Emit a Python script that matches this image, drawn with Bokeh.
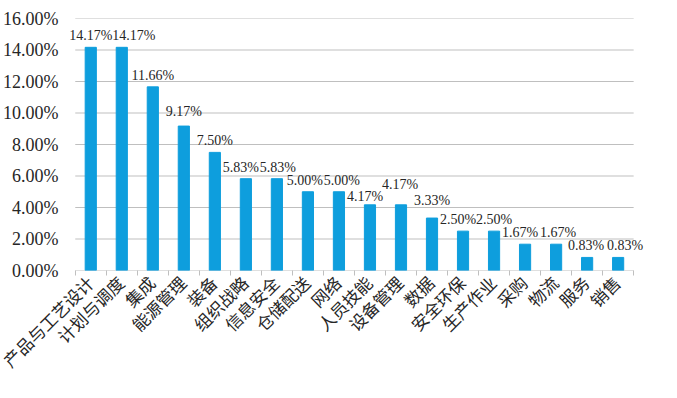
from bokeh.plotting import figure
from bokeh.models import ColumnDataSource, FixedTicker, Range1d, PrintfTickFormatter, LabelSet
from bokeh.embed import file_html
from bokeh.resources import INLINE
import math

categories = ["产品与工艺设计", "计划与调度", "集成", "能源管理", "装备", "组织战略", "信息安全",
              "仓储配送", "网络", "人员技能", "设备管理", "数据", "安全环保", "生产作业",
              "采购", "物流", "服务", "销售"]
values = [14.17, 14.17, 11.66, 9.17, 7.50, 5.83, 5.83, 5.00, 5.00, 4.17, 4.17, 3.33,
          2.50, 2.50, 1.67, 1.67, 0.83, 0.83]
y_ticks = [0, 2, 4, 6, 8, 10, 12, 14, 16]

# small label nudges (pixels) so that neighbouring labels don't collide, as in the original
label_dx = [0, 12, 0, 0, 0, -5, 1, -3, 3, -5, -1, 0, -5, 0, -5, 2, -1, 7]
label_dy = [0, 0, 0, -3, 0, 0, 0, 0, 0, 3, -9, -6, 0, 0, 0, 0, 0, 0]

n = len(categories)
xs = list(range(n))
labels = ["%.2f%%" % v for v in values]
src = ColumnDataSource(dict(x=xs, top=values, label=labels, dx=label_dx,
                            dy=[4 - d for d in label_dy]))

# x range padded a little beyond the category span so the end labels are not clipped
p = figure(width=668, height=388, output_backend="svg", toolbar_location=None,
           x_range=Range1d(-0.75, n - 0.15), y_range=Range1d(0, 16),
           min_border_left=66, min_border_right=24, min_border_top=18, min_border_bottom=118)
p.outline_line_color = None
p.background_fill_color = "white"
p.xgrid.grid_line_color = None
p.ygrid.grid_line_color = None

# horizontal gridlines spanning only the category area
grid_src = ColumnDataSource(dict(x0=[-0.5] * len(y_ticks), x1=[n - 0.5] * len(y_ticks),
                                 y=y_ticks))
p.segment(x0="x0", y0="y", x1="x1", y1="y", source=grid_src, line_color="#BFBFBF",
          line_width=1)

p.vbar(x="x", top="top", width=0.36, source=src, color="#0E9EDD")

serif = "'Times New Roman', serif, 'Noto Sans CJK SC'"

p.add_layout(LabelSet(x="x", y="top", text="label", source=src, text_align="center",
                      text_baseline="bottom", x_offset="dx", y_offset="dy",
                      text_font=serif, text_font_size="14px", text_color="#262626"))

# y axis
p.yaxis.ticker = FixedTicker(ticks=y_ticks)
p.yaxis.formatter = PrintfTickFormatter(format="%.2f%%")
p.yaxis.axis_line_color = None
p.yaxis.major_tick_line_color = None
p.yaxis.minor_tick_line_color = None
p.yaxis.major_label_text_font = serif
p.yaxis.major_label_text_font_size = "18px"
p.yaxis.major_label_text_color = "#262626"
p.yaxis.major_label_standoff = 3

# x axis
boundaries = [i - 0.5 for i in range(n + 1)]
p.xaxis.ticker = FixedTicker(ticks=xs, minor_ticks=boundaries)
p.xaxis.major_label_overrides = {i: c for i, c in enumerate(categories)}
p.xaxis.major_label_orientation = math.pi / 4
p.xaxis.major_label_text_font = serif
p.xaxis.major_label_text_font_size = "17px"
p.xaxis.major_label_text_color = "#262626"
p.xaxis.major_tick_line_color = None
p.xaxis.minor_tick_in = 0
p.xaxis.minor_tick_out = 5
p.xaxis.minor_tick_line_color = "#BFBFBF"
p.xaxis.axis_line_color = None
p.xaxis.major_label_standoff = 4

open("out.html", "w").write(file_html(p, INLINE))
